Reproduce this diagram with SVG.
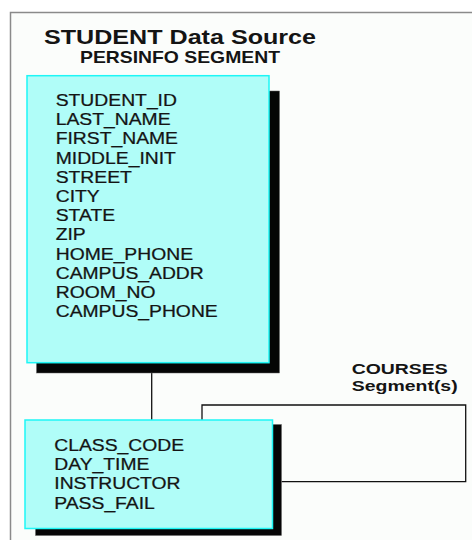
<svg xmlns="http://www.w3.org/2000/svg" width="472" height="540" viewBox="0 0 472 540">
  <style>
    .frame { fill: #fbfdfb; stroke: #8a8a8a; stroke-width: 1.5; }
    .box { fill: #b0fdf8; stroke: #1ef6f6; stroke-width: 1.5; }
    .shadow { fill: #050505; stroke: #666; stroke-width: 0.5; }
    .conn { fill: none; stroke: #111; stroke-width: 1.3; }
    .field { font-family: "Liberation Sans", Arial, sans-serif; font-size: 16.8px; fill: #141414; stroke: #141414; stroke-width: 0.25; }
    .title { font-family: "Liberation Sans", Arial, sans-serif; font-weight: bold; fill: #141414; }
  </style>
  <rect x="0" y="0" width="472" height="540" fill="#ffffff"/>
  <rect class="frame" x="10.5" y="12.5" width="470" height="540"/>

  <g id="title">
    <text class="title" x="44" y="43.5" font-size="21" textLength="272" lengthAdjust="spacingAndGlyphs">STUDENT Data Source</text>
    <text class="title" x="80" y="62.7" font-size="17" textLength="200" lengthAdjust="spacingAndGlyphs">PERSINFO SEGMENT</text>
  </g>

  <g id="connectors">
    <line class="conn" x1="151.7" y1="373" x2="151.7" y2="420"/>
    <polyline class="conn" points="202,420 202,405 465.7,405 465.7,481.7 281.5,481.7"/>
  </g>

  <g id="persinfo">
    <rect class="shadow" x="36.5" y="91" width="243" height="282"/>
    <rect class="box" x="27" y="75.7" width="242" height="287"/>
    <g transform="translate(55.7 0) scale(1.15 1)">
      <text class="field" x="0" y="106">STUDENT_ID</text>
      <text class="field" x="0" y="125.2">LAST_NAME</text>
      <text class="field" x="0" y="144.4">FIRST_NAME</text>
      <text class="field" x="0" y="163.6">MIDDLE_INIT</text>
      <text class="field" x="0" y="182.8">STREET</text>
      <text class="field" x="0" y="202">CITY</text>
      <text class="field" x="0" y="221.2">STATE</text>
      <text class="field" x="0" y="240.4">ZIP</text>
      <text class="field" x="0" y="259.6">HOME_PHONE</text>
      <text class="field" x="0" y="278.8">CAMPUS_ADDR</text>
      <text class="field" x="0" y="298">ROOM_NO</text>
      <text class="field" x="0" y="317.2">CAMPUS_PHONE</text>
    </g>
  </g>

  <g id="courses">
    <rect class="shadow" x="35.5" y="424.5" width="246" height="111"/>
    <rect class="box" x="25" y="420" width="247.5" height="108.5"/>
    <g transform="translate(54.3 0) scale(1.15 1)">
      <text class="field" x="0" y="451">CLASS_CODE</text>
      <text class="field" x="0" y="470.2">DAY_TIME</text>
      <text class="field" x="0" y="489.4">INSTRUCTOR</text>
      <text class="field" x="0" y="508.6">PASS_FAIL</text>
    </g>
  </g>

  <g id="courses-label">
    <text class="title" x="351.7" y="373.5" font-size="15.2" textLength="96" lengthAdjust="spacingAndGlyphs">COURSES</text>
    <text class="title" x="351.7" y="390.5" font-size="15.2" textLength="106" lengthAdjust="spacingAndGlyphs">Segment(s)</text>
  </g>
</svg>
